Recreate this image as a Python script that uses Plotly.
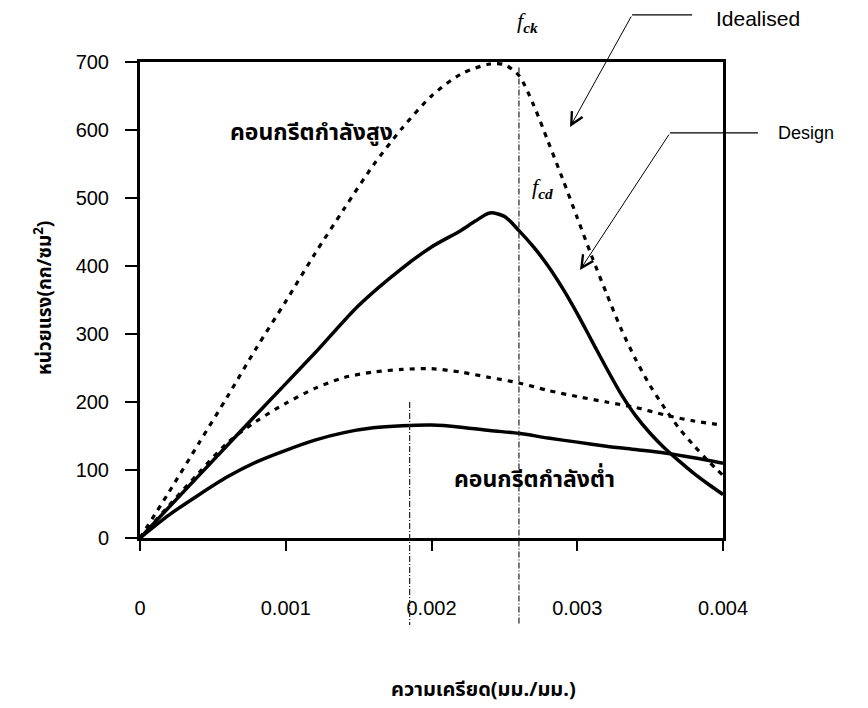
import plotly.graph_objects as go

# ---------------- data ----------------
strain_hd = [0, 0.0002, 0.0004, 0.0006, 0.0008, 0.001, 0.0012, 0.0014, 0.0016, 0.0018, 0.002,
             0.0022, 0.0024, 0.0025, 0.0026, 0.0027, 0.0028, 0.0029, 0.003, 0.0031, 0.0032,
             0.0033, 0.0034, 0.0035, 0.0036, 0.0037, 0.0038, 0.0039, 0.004]
stress_hd = [0, 68, 138, 208, 280, 348, 418, 484, 548, 603, 650,
             682, 697, 696, 680, 637, 583, 528, 471, 414, 360,
             308, 263, 224, 191, 161, 136, 113, 92]

strain_hs = [0, 0.0004, 0.0008, 0.0012, 0.0015, 0.0018, 0.002, 0.0022, 0.0023, 0.0024, 0.0025,
             0.0026, 0.0027, 0.0028, 0.0029, 0.003, 0.0031, 0.0032, 0.0033, 0.0034, 0.0035,
             0.0036, 0.0037, 0.0038, 0.0039, 0.004]
stress_hs = [0, 91, 182, 272, 342, 397, 428, 452, 466, 478, 473,
             452, 428, 400, 367, 330, 290, 250, 212, 180, 154,
             132, 113, 95, 79, 64]

strain_ld = [0, 0.0002, 0.0004, 0.0006, 0.0008, 0.001, 0.0012, 0.0014, 0.0016, 0.0018, 0.002,
             0.0022, 0.0024, 0.0026, 0.0028, 0.003, 0.0032, 0.0034, 0.0036, 0.0038, 0.004]
stress_ld = [0, 48, 95, 140, 172, 198, 220, 236, 244, 248, 249,
             244, 236, 228, 217, 208, 200, 192, 181, 172, 166]

strain_ls = [0, 0.0002, 0.0004, 0.0006, 0.0008, 0.001, 0.0012, 0.0014, 0.0016, 0.0018, 0.002,
             0.0022, 0.0024, 0.0026, 0.0028, 0.003, 0.0032, 0.0034, 0.0036, 0.0038, 0.004]
stress_ls = [0, 34, 63, 90, 112, 129, 144, 155, 162, 165, 166,
             163, 158, 154, 147, 141, 135, 130, 125, 118, 110]

x_ticks = [0, 0.001, 0.002, 0.003, 0.004]
x_ticktext = ["0", "0.001", "0.002", "0.003", "0.004"]
y_ticks = [0, 100, 200, 300, 400, 500, 600, 700]

# vertical reference lines: strain, top stress
ref_strain = [0.00185, 0.0026]
ref_top = [200, 692]

x_title = "ความเครียด(มม./มม.)"
y_title = "หน่วยแรง(กก/ซม<sup>2</sup>)"
label_high = "คอนกรีตกำลังสูง"
label_low = "คอนกรีตกำลังต่ำ"

THAI = "Noto Sans Thai, Loma, Garuda, Tlwg Typo, Norasi, Noto Sans, DejaVu Sans, sans-serif"
ARIAL = "Arial, Liberation Sans, sans-serif"
SERIF = "Times New Roman, Liberation Serif, serif"

fig = go.Figure()
dash_style = dict(color="black", width=3.2, dash="5px,6px")
solid_style = dict(color="black", width=3.5)
fig.add_trace(go.Scatter(x=strain_hd, y=stress_hd, mode="lines", line=dict(**dash_style, shape="spline", smoothing=0.8), showlegend=False))
fig.add_trace(go.Scatter(x=strain_hs, y=stress_hs, mode="lines", line=dict(**solid_style, shape="spline", smoothing=0.8), showlegend=False))
fig.add_trace(go.Scatter(x=strain_ld, y=stress_ld, mode="lines", line=dict(**dash_style, shape="spline", smoothing=0.8), showlegend=False))
fig.add_trace(go.Scatter(x=strain_ls, y=stress_ls, mode="lines", line=dict(**solid_style, shape="spline", smoothing=0.8), showlegend=False))

# vertical dash-dot reference lines (extend below the axis)
for xs, top in zip(ref_strain, ref_top):
    fig.add_shape(type="line", xref="x", yref="paper", x0=xs, x1=xs, y0=top / 700, y1=-0.183,
                  line=dict(color="#222", width=1.2, dash="6px,2px,1px,2px"))

# leader lines for callouts
fig.add_shape(type="line", xref="paper", yref="paper", x0=0.844, x1=0.947, y0=1.099, y1=1.099,
              line=dict(color="black", width=1.2))
fig.add_shape(type="line", xref="paper", yref="paper", x0=0.909, x1=1.060, y0=0.851, y1=0.851,
              line=dict(color="black", width=1.2))

ann = []
ann.append(dict(x=0.7376, y=0.8634, xref="paper", yref="paper", text="", showarrow=True,
                ax=62, ay=-112, arrowhead=5, arrowsize=2.4, arrowwidth=1, arrowcolor="black"))
ann.append(dict(x=0.7547, y=0.5630, xref="paper", yref="paper", text="", showarrow=True,
                ax=90, ay=-137, arrowhead=5, arrowsize=2.4, arrowwidth=1, arrowcolor="black"))
ann.append(dict(x=0.947, y=1.092, xref="paper", yref="paper", xanchor="left", yanchor="middle",
                text="Idealised", showarrow=False, xshift=22, font=dict(family=ARIAL, size=21, color="black")))
ann.append(dict(x=1.060, y=0.851, xref="paper", yref="paper", xanchor="left", yanchor="middle",
                text="Design", showarrow=False, xshift=18, font=dict(family=ARIAL, size=18, color="black")))
ann.append(dict(x=0.6655, y=1.118, xref="paper", yref="paper", text="<i>f</i><sub><b><i>ck</i></b></sub>",
                showarrow=False, font=dict(family=SERIF, size=22, color="black")))
ann.append(dict(x=0.712, y=0.769, xref="paper", yref="paper", text="<i>f</i><sub><b><i>cd</i></b></sub>",
                showarrow=False, font=dict(family=SERIF, size=22, color="black")))
ann.append(dict(x=0.001174, y=596, xref="x", yref="y", text="<b>" + label_high + "</b>",
                showarrow=False, font=dict(family=THAI, size=23, color="black")))
ann.append(dict(x=0.00271, y=85, xref="x", yref="y", text="<b>" + label_low + "</b>",
                showarrow=False, font=dict(family=THAI, size=23, color="black")))
ann.append(dict(x=0.59, y=-0.355, xref="paper", yref="paper", text="<b>" + x_title + "</b>",
                showarrow=False, font=dict(family=THAI, size=20, color="black")))
ann.append(dict(x=-0.194, y=0.505, xref="paper", yref="paper", text="<b>" + y_title + "</b>",
                textangle=-90, showarrow=False, font=dict(family=THAI, size=19, color="black")))

fig.update_layout(
    width=868, height=708,
    margin=dict(l=140, r=145, t=62, b=170),
    paper_bgcolor="white", plot_bgcolor="white",
    annotations=ann,
    xaxis=dict(range=[0, 0.004], tickvals=x_ticks, ticktext=x_ticktext, showgrid=False, zeroline=False,
               showline=True, linecolor="black", linewidth=3, mirror=True,
               ticks="outside", ticklen=10, tickwidth=1.5, tickcolor="black",
               ticklabelstandoff=40, tickfont=dict(family=ARIAL, size=20, color="black")),
    yaxis=dict(range=[0, 700], tickvals=y_ticks, showgrid=False, zeroline=False,
               showline=True, linecolor="black", linewidth=3, mirror=True,
               ticks="outside", ticklen=12, tickwidth=1.5, tickcolor="black",
               ticklabelstandoff=12, tickfont=dict(family=ARIAL, size=20, color="black")),
)

fig.write_html("out.html")
